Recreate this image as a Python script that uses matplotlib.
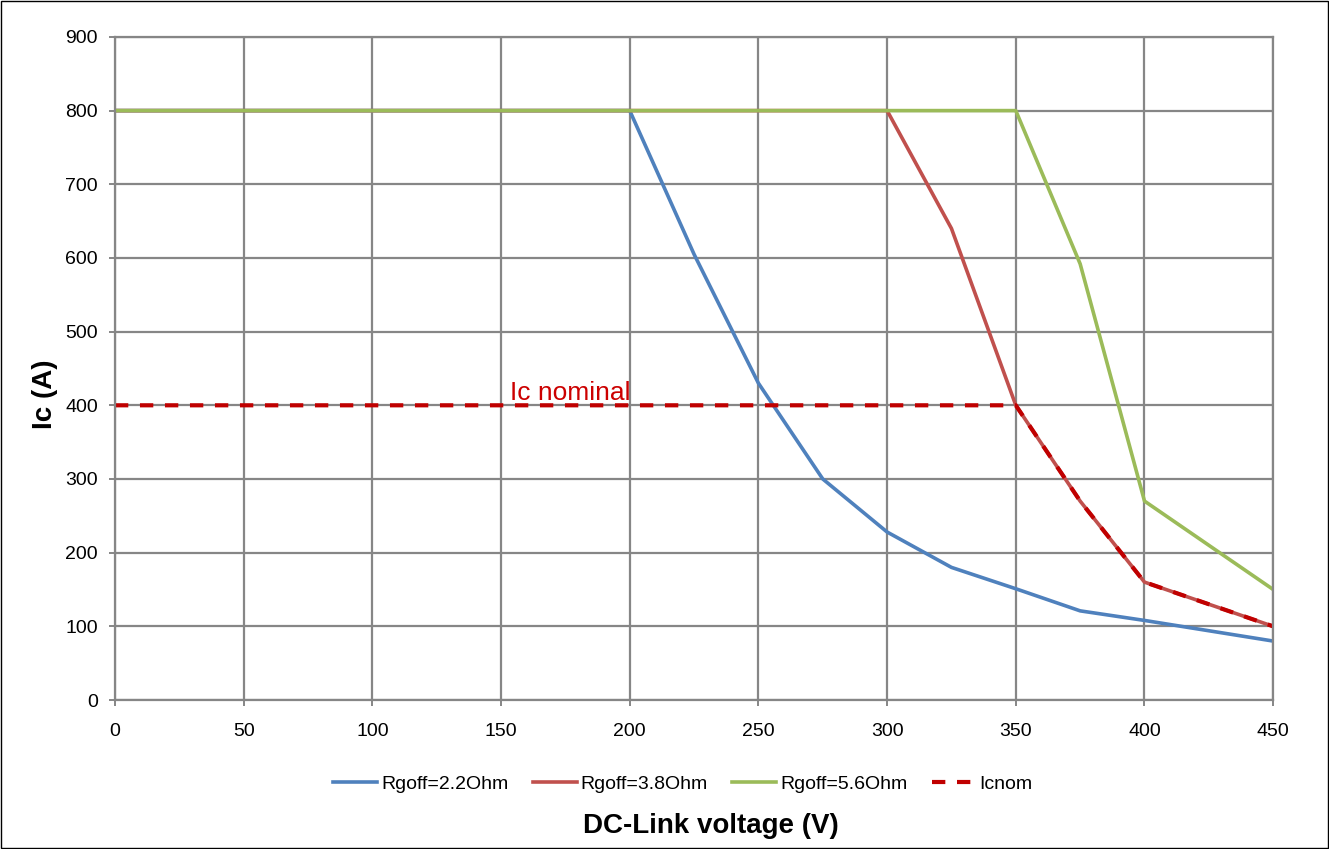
import matplotlib.pyplot as plt
from matplotlib.patches import Rectangle

plt.rcParams['font.family'] = ['Liberation Sans', 'DejaVu Sans']

# DC-link voltage (V)
voltage = [0, 25, 50, 75, 100, 125, 150, 175, 200, 225, 250, 275, 300, 325, 350, 375, 400, 425, 450]

# Ic (A) for each gate resistor
ic_22 = [800, 800, 800, 800, 800, 800, 800, 800, 800, 605, 430, 300, 228, 180, 151, 121, 108, 94, 80]
ic_38 = [800, 800, 800, 800, 800, 800, 800, 800, 800, 800, 800, 800, 800, 640, 400, 270, 160, 130, 100]
ic_56 = [800, 800, 800, 800, 800, 800, 800, 800, 800, 800, 800, 800, 800, 800, 800, 592, 270, 210, 150]
ic_nom = [400, 400, 400, 400, 400, 400, 400, 400, 400, 400, 400, 400, 400, 400, 400, 270, 160, 130, 100]

fig = plt.figure(figsize=(13.29, 8.49), dpi=100)
ax = fig.add_axes([0.0865, 0.1755, 0.8715, 0.781])

grid_col = '#868686'
ax.set_axisbelow(True)
ax.grid(True, color=grid_col, linewidth=1.6)

ax.plot(voltage, ic_22, color='#4F81BD', linewidth=2.6, label='Rgoff=2.2Ohm')
ax.plot(voltage, ic_38, color='#C0504D', linewidth=2.6, label='Rgoff=3.8Ohm')
ax.plot(voltage, ic_56, color='#9BBB59', linewidth=2.6, label='Rgoff=5.6Ohm')
ax.plot(voltage, ic_nom, color='#C00000', linewidth=3, linestyle=(0, (3.2, 2.8)), label='Icnom')

ax.text(153.5, 407, 'Ic nominal', color='#CC0000', fontsize=19, va='baseline', ha='left')

ax.set_xlim(0, 450)
ax.set_ylim(0, 900)
ax.set_xticks(range(0, 451, 50))
ax.set_yticks(range(0, 901, 100))
ax.tick_params(axis='both', labelsize=14, color=grid_col, length=4.3, width=1.4)
ax.tick_params(axis='x', pad=12)
ax.tick_params(axis='y', pad=8)
for s in ax.spines.values():
    s.set_color(grid_col)
    s.set_linewidth(1.6)

fig.text(45 / 1329, 1 - 394 / 849, 'Ic (A)', fontsize=20, fontweight='bold',
         rotation=90, ha='center', va='center')
fig.text(711 / 1329, 1 - 826 / 849, 'DC-Link voltage (V)', fontsize=20, fontweight='bold',
         ha='center', va='center')

leg = fig.legend(loc='center', bbox_to_anchor=(683 / 1329, 1 - 784 / 849), ncol=4, frameon=False,
                 fontsize=14, handlelength=2.26, columnspacing=1.25, handletextpad=0.2)

fig.patches.append(Rectangle((0.001, 0.001), 0.998, 0.998, transform=fig.transFigure,
                             fill=False, edgecolor='black', linewidth=1))

fig.savefig('out.png', dpi=100)
